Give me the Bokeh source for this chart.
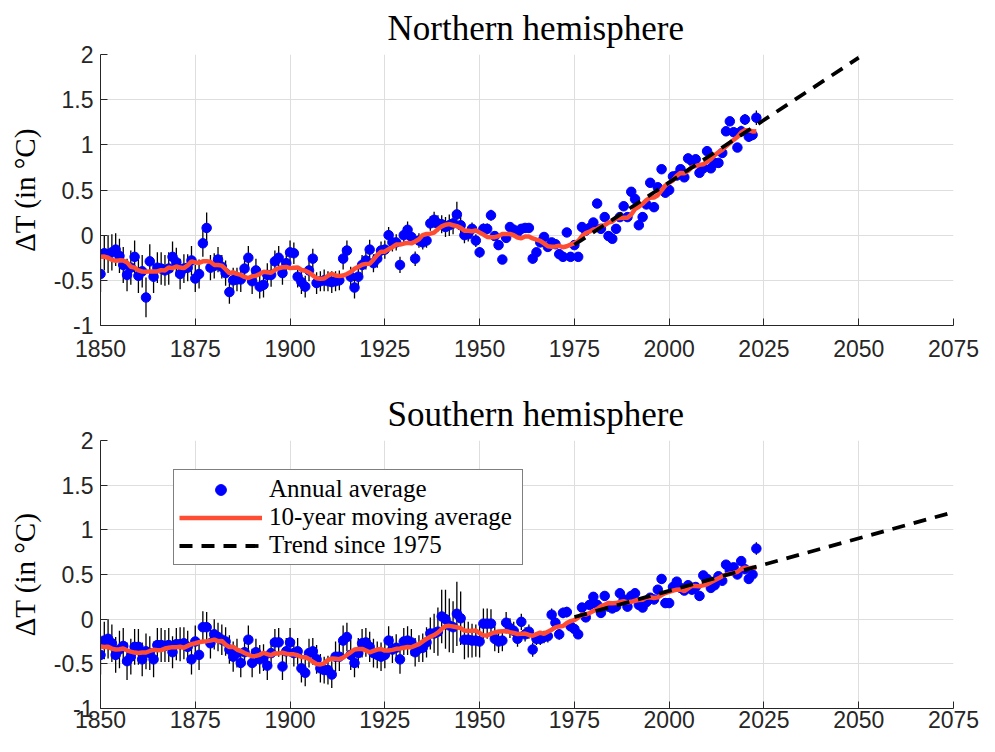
import numpy as np
from bokeh.plotting import figure
from bokeh.layouts import column
from bokeh.models import Range1d, FixedTicker, NumeralTickFormatter, Legend, LegendItem
from bokeh.embed import file_html
from bokeh.resources import INLINE

# ---------------- data ----------------
years = list(range(1850, 2024))

north = [
    -0.43, -0.20, -0.21, -0.19, -0.16, -0.23, -0.33, -0.44, -0.36, -0.24,
    -0.45, -0.40, -0.69, -0.29, -0.46, -0.36, -0.37, -0.39, -0.37, -0.24,
    -0.30, -0.43, -0.37, -0.36, -0.28, -0.48, -0.43, -0.09, 0.08, -0.36,
    -0.34, -0.27, -0.35, -0.42, -0.63, -0.50, -0.49, -0.49, -0.37, -0.25,
    -0.51, -0.39, -0.57, -0.55, -0.44, -0.44, -0.29, -0.25, -0.42, -0.31,
    -0.19, -0.20, -0.46, -0.52, -0.57, -0.39, -0.26, -0.53, -0.51, -0.50,
    -0.51, -0.52, -0.51, -0.50, -0.26, -0.17, -0.46, -0.58, -0.46, -0.33,
    -0.28, -0.16, -0.31, -0.26, -0.17, -0.16, 0.00, -0.08, -0.08, -0.33,
    0.00, 0.06, -0.02, -0.26, -0.06, -0.08, -0.06, 0.13, 0.17, 0.13,
    0.12, 0.09, 0.11, 0.13, 0.23, 0.11, 0.00, 0.01, 0.07, -0.06,
    -0.19, 0.07, 0.07, 0.22, -0.01, -0.11, -0.27, -0.03, 0.09, 0.06,
    0.03, 0.07, 0.08, 0.08, -0.26, -0.19, -0.08, -0.02, -0.13, -0.08,
    -0.10, -0.21, -0.24, 0.03, -0.24, -0.11, -0.24, 0.09, 0.05, 0.08,
    0.14, 0.35, 0.07, 0.20, -0.01, -0.04, 0.07, 0.20, 0.32, 0.20,
    0.48, 0.40, 0.11, 0.20, 0.34, 0.58, 0.31, 0.53, 0.73, 0.47,
    0.50, 0.65, 0.66, 0.73, 0.64, 0.85, 0.82, 0.84, 0.69, 0.74,
    0.93, 0.74, 0.80, 0.80, 0.91, 1.15, 1.26, 1.14, 0.97, 1.15,
    1.28, 1.09, 1.11, 1.30,
]

north_err = [
    0.20, 0.19, 0.21, 0.20, 0.18, 0.19, 0.20, 0.18, 0.19, 0.18,
    0.19, 0.18, 0.22, 0.19, 0.18, 0.17, 0.18, 0.17, 0.18, 0.17,
    0.16, 0.17, 0.16, 0.15, 0.16, 0.15, 0.16, 0.15, 0.17, 0.14,
    0.14, 0.14, 0.13, 0.14, 0.13, 0.14, 0.13, 0.14, 0.13, 0.13,
    0.14, 0.13, 0.13, 0.14, 0.13, 0.13, 0.12, 0.13, 0.13, 0.12,
    0.13, 0.12, 0.12, 0.13, 0.12, 0.12, 0.11, 0.12, 0.11, 0.12,
    0.11, 0.12, 0.11, 0.11, 0.12, 0.11, 0.11, 0.12, 0.11, 0.11,
    0.10, 0.11, 0.10, 0.10, 0.10, 0.10, 0.09, 0.10, 0.09, 0.09,
    0.09, 0.09, 0.09, 0.08, 0.08, 0.08, 0.08, 0.08, 0.09, 0.09,
    0.10, 0.11, 0.12, 0.12, 0.14, 0.12, 0.09, 0.08, 0.07, 0.07,
    0.06, 0.06, 0.06, 0.06, 0.05, 0.05, 0.05, 0.05, 0.05, 0.05,
    0.05, 0.05, 0.05, 0.05, 0.05, 0.05, 0.05, 0.05, 0.05, 0.05,
    0.05, 0.05, 0.05, 0.05, 0.05, 0.05, 0.05, 0.05, 0.05, 0.05,
    0.05, 0.05, 0.05, 0.05, 0.05, 0.05, 0.05, 0.05, 0.05, 0.05,
    0.05, 0.05, 0.05, 0.05, 0.05, 0.05, 0.05, 0.05, 0.05, 0.05,
    0.05, 0.05, 0.05, 0.05, 0.05, 0.05, 0.05, 0.05, 0.05, 0.05,
    0.05, 0.05, 0.05, 0.05, 0.05, 0.05, 0.05, 0.05, 0.05, 0.06,
    0.06, 0.06, 0.06, 0.08,
]

south = [
    -0.40, -0.24, -0.22, -0.27, -0.40, -0.34, -0.30, -0.47, -0.42, -0.31,
    -0.31, -0.45, -0.36, -0.38, -0.45, -0.29, -0.29, -0.30, -0.29, -0.37,
    -0.28, -0.28, -0.27, -0.31, -0.45, -0.25, -0.40, -0.09, -0.09, -0.27,
    -0.17, -0.20, -0.23, -0.25, -0.34, -0.42, -0.38, -0.49, -0.37, -0.23,
    -0.49, -0.37, -0.45, -0.43, -0.52, -0.38, -0.26, -0.26, -0.53, -0.36,
    -0.26, -0.38, -0.36, -0.55, -0.60, -0.38, -0.36, -0.45, -0.55, -0.57,
    -0.57, -0.62, -0.42, -0.42, -0.24, -0.20, -0.40, -0.49, -0.38, -0.27,
    -0.26, -0.31, -0.38, -0.40, -0.42, -0.40, -0.24, -0.34, -0.32, -0.45,
    -0.25, -0.24, -0.26, -0.37, -0.33, -0.32, -0.26, -0.16, -0.16, -0.14,
    0.03, 0.00, -0.07, -0.09, 0.06, 0.01, -0.23, -0.23, -0.24, -0.24,
    -0.25, -0.05, -0.05, -0.05, -0.22, -0.25, -0.24, -0.04, -0.10, -0.13,
    -0.22, -0.03, -0.17, -0.14, -0.34, -0.22, -0.22, -0.20, -0.19, 0.05,
    -0.04, -0.17, 0.07, 0.08, -0.08, -0.11, -0.17, 0.13, 0.02, 0.16,
    0.25, 0.16, 0.07, 0.26, 0.14, 0.12, 0.14, 0.29, 0.22, 0.14,
    0.26, 0.29, 0.16, 0.13, 0.19, 0.24, 0.22, 0.33, 0.45, 0.18,
    0.18, 0.36, 0.42, 0.35, 0.32, 0.38, 0.33, 0.36, 0.26, 0.49,
    0.45, 0.35, 0.38, 0.48, 0.43, 0.61, 0.54, 0.58, 0.50, 0.65,
    0.56, 0.45, 0.50, 0.79,
]

south_err = [
    0.22, 0.21, 0.22, 0.21, 0.20, 0.21, 0.20, 0.21, 0.20, 0.20,
    0.20, 0.19, 0.20, 0.19, 0.20, 0.19, 0.19, 0.18, 0.19, 0.18,
    0.18, 0.19, 0.18, 0.18, 0.17, 0.18, 0.17, 0.18, 0.17, 0.17,
    0.17, 0.16, 0.17, 0.16, 0.16, 0.17, 0.16, 0.16, 0.15, 0.16,
    0.16, 0.15, 0.16, 0.15, 0.16, 0.15, 0.15, 0.16, 0.15, 0.15,
    0.16, 0.15, 0.15, 0.16, 0.15, 0.16, 0.15, 0.16, 0.16, 0.15,
    0.16, 0.15, 0.17, 0.16, 0.17, 0.16, 0.17, 0.16, 0.17, 0.16,
    0.16, 0.17, 0.16, 0.15, 0.16, 0.15, 0.16, 0.15, 0.15, 0.16,
    0.15, 0.16, 0.15, 0.16, 0.15, 0.16, 0.17, 0.18, 0.22, 0.27,
    0.30, 0.33, 0.30, 0.29, 0.36, 0.30, 0.22, 0.20, 0.19, 0.18,
    0.18, 0.17, 0.17, 0.16, 0.14, 0.13, 0.12, 0.12, 0.11, 0.10,
    0.09, 0.09, 0.08, 0.08, 0.08, 0.07, 0.07, 0.07, 0.07, 0.07,
    0.07, 0.06, 0.06, 0.06, 0.06, 0.06, 0.05, 0.05, 0.05, 0.05,
    0.05, 0.05, 0.05, 0.05, 0.05, 0.05, 0.05, 0.05, 0.05, 0.05,
    0.05, 0.05, 0.05, 0.05, 0.05, 0.05, 0.05, 0.05, 0.05, 0.05,
    0.05, 0.05, 0.05, 0.05, 0.05, 0.05, 0.05, 0.05, 0.05, 0.05,
    0.05, 0.05, 0.05, 0.05, 0.05, 0.05, 0.05, 0.05, 0.05, 0.05,
    0.05, 0.05, 0.05, 0.07,
]

titles = ["Northern hemisphere", "Southern hemisphere"]
x_ticks = [1850, 1875, 1900, 1925, 1950, 1975, 2000, 2025, 2050, 2075]
y_ticks = [-1, -0.5, 0, 0.5, 1, 1.5, 2]
x_limits = [1850, 2075]
y_limits = [-1, 2]
trend_start = 1975
trend_end = [2050, 2075]
window = 10
legend_labels = ["Annual average", "10-year moving average", "Trend since 1975"]
y_label = "ΔT (in °C)"

assert len(years) == len(north) == len(south) == len(north_err) == len(south_err)

# ---------------- styles ----------------
BLUE = "#0000FF"
RED = "#FF4D33"
AX = "#262626"
GRID = "#dedede"
SANS = "Liberation Sans"
SERIF = "Liberation Serif"
W = 979


def movmean(v, k):
    v = np.asarray(v, dtype=float)
    n = len(v)
    before = k // 2
    after = k - before - 1
    return np.array([v[max(0, i - before):min(n, i + after + 1)].mean() for i in range(n)])


def panel(vals, errs, title, t_end, height, b_top, b_bottom, label_standoff, with_legend):
    p = figure(width=W, height=height,
               min_border_left=100, min_border_right=26,
               min_border_top=b_top, min_border_bottom=b_bottom,
               x_range=Range1d(*x_limits), y_range=Range1d(*y_limits),
               output_backend="svg", toolbar_location=None)
    p.outline_line_color = None
    p.background_fill_color = "white"
    p.border_fill_color = "white"

    p.title.text = title
    p.title.align = "left"
    p.title.offset = 287
    p.title.text_font = SERIF
    p.title.text_font_size = "35px"
    p.title.text_font_style = "normal"
    p.title.text_color = "black"
    p.title.standoff = 13

    for ax in (p.xaxis[0], p.yaxis[0]):
        ax.axis_line_color = AX
        ax.axis_line_width = 1
        ax.major_tick_line_color = AX
        ax.major_tick_in = 7
        ax.major_tick_out = 0
        ax.minor_tick_line_color = None
        ax.major_label_text_font = SANS
        ax.major_label_text_font_size = "23px"
        ax.major_label_text_color = AX
    p.xaxis.ticker = FixedTicker(ticks=x_ticks)
    p.yaxis.ticker = FixedTicker(ticks=y_ticks)
    p.yaxis.formatter = NumeralTickFormatter(format="0.[0]")
    p.xaxis.major_label_standoff = label_standoff
    p.yaxis.major_label_standoff = 7
    p.yaxis.axis_label = y_label
    p.yaxis.axis_label_text_font = SERIF
    p.yaxis.axis_label_text_font_size = "29px"
    p.yaxis.axis_label_text_font_style = "normal"
    p.yaxis.axis_label_text_color = "black"
    p.yaxis.axis_label_standoff = 10

    p.xgrid.ticker = FixedTicker(ticks=x_ticks)
    p.ygrid.ticker = FixedTicker(ticks=y_ticks)
    for g in (p.xgrid[0], p.ygrid[0]):
        g.grid_line_color = GRID
        g.grid_line_width = 1

    yr = np.asarray(years, dtype=float)
    v = np.asarray(vals, dtype=float)
    e = np.asarray(errs, dtype=float)

    p.segment(x0=yr, y0=v - e, x1=yr, y1=v + e, line_color="black", line_width=1.3)
    r_pts = p.scatter(yr, v, size=9.5, marker="circle", fill_color=BLUE, line_color=BLUE)
    r_ma = p.line(yr, movmean(v, window), line_color=RED, line_width=4.5)

    sel = yr >= trend_start
    slope, icpt = np.polyfit(yr[sel], v[sel], 1)
    tx = np.array([trend_start, t_end], dtype=float)
    r_tr = p.line(tx, slope * tx + icpt, line_color="black", line_width=3.8, line_dash="13 9")

    if with_legend:
        leg = Legend(items=[LegendItem(label=legend_labels[0], renderers=[r_pts]),
                            LegendItem(label=legend_labels[1], renderers=[r_ma]),
                            LegendItem(label=legend_labels[2], renderers=[r_tr])],
                     location=(73, 143))
        leg.label_text_font = SERIF
        leg.label_text_font_size = "25px"
        leg.label_text_color = "black"
        leg.label_standoff = 7
        leg.label_width = 248
        leg.label_height = 27
        leg.glyph_width = 83
        leg.glyph_height = 27
        leg.spacing = 0
        leg.padding = 5
        leg.margin = 0
        leg.border_line_color = "black"
        leg.border_line_width = 1
        leg.background_fill_color = "white"
        leg.background_fill_alpha = 1.0
        p.add_layout(leg, "center")
    return p


p1 = panel(north, north_err, titles[0], trend_end[0], 370, 51, 45, 14, False)
p2 = panel(south, south_err, titles[1], trend_end[1], 366, 70, 28, 2, True)

layout = column(p1, p2, spacing=0)
open("out.html", "w").write(file_html(layout, INLINE))
